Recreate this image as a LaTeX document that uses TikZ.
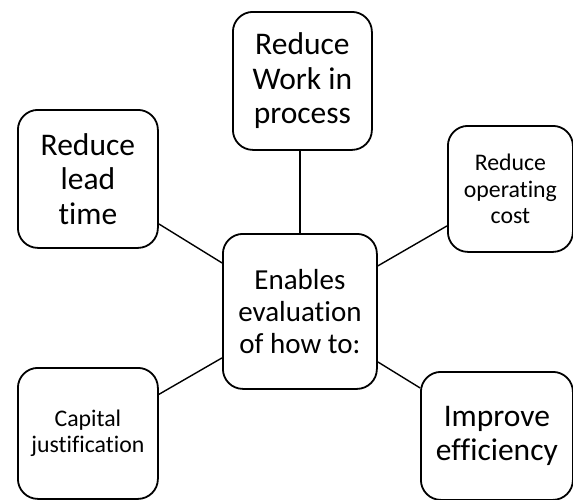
\documentclass[tikz,border=0pt]{standalone}
\usepackage{fontspec}
\setmainfont{Carlito}[Ligatures=NoCommon]
\usetikzlibrary{calc}
\begin{document}
\begin{tikzpicture}[x=1pt,y=-1pt,
  card/.style={draw=black, line width=1.8pt, fill=white, rounded corners=20pt,
    inner sep=0pt, align=center, anchor=north west},
  bigtext/.style={font=\fontsize{31.5}{34.5}\selectfont},
  midtext/.style={font=\fontsize{29}{32}\selectfont},
  smalltext/.style={font=\fontsize{23.8}{26.7}\selectfont},
  link/.style={draw=black, line width=1.4pt}]
  \useasboundingbox (0,0) rectangle (573,499);

  % central box
  \node[card, midtext, minimum width=154pt, minimum height=155pt] (hub) at (222,233)
    {Enables\\evaluation\\of how to:};

  % surrounding goals
  \node[card, bigtext, minimum width=139pt, minimum height=138pt] (wip) at (232,11)
    {Reduce\\Work in\\process};
  \node[card, bigtext, minimum width=140pt, minimum height=138pt] (lead) at (17,109)
    {Reduce\\lead\\time};
  \node[card, smalltext, minimum width=125pt, minimum height=126pt] (cost) at (447,125)
    {Reduce\\operating\\cost};
  \node[card, smalltext, minimum width=140pt, minimum height=131pt] (capital) at (17,367)
    {Capital\\justification};
  \node[card, bigtext, minimum width=152pt, minimum height=128pt] (eff) at (420,371)
    {Improve\\efficiency};

  % spokes from the centre to each goal
  \draw[link] (hub.north) -- (hub.north |- wip.south);
  \draw[link] ([yshift=48.5pt]hub.west) -- ([yshift=-45pt]lead.east);
  \draw[link] ([yshift=45.5pt]hub.east) -- ([yshift=-37pt]cost.west);
  \draw[link] ([yshift=-46.5pt]hub.west) -- ([yshift=39pt]capital.east);
  \draw[link] ([yshift=-50.5pt]hub.east) -- ([yshift=48pt]eff.west);
\end{tikzpicture}
\end{document}
